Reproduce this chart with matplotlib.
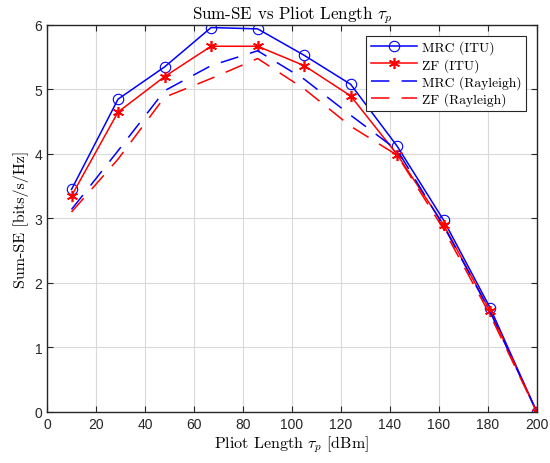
import matplotlib
matplotlib.use("Agg")
import matplotlib.pyplot as plt

plt.rcParams["mathtext.fontset"] = "cm"
plt.rcParams["axes.formatter.use_mathtext"] = False

tau_p = [10, 29, 48, 67, 86, 105, 124, 143, 162, 181, 200]
mrc_itu = [3.45, 4.85, 5.35, 5.96, 5.94, 5.53, 5.08, 4.12, 2.97, 1.61, 0.0]
zf_itu = [3.35, 4.65, 5.20, 5.67, 5.67, 5.37, 4.90, 3.99, 2.90, 1.56, 0.0]
mrc_ray = [3.14, 4.05, 4.98, 5.37, 5.60, 5.16, 4.60, 4.06, 2.88, 1.55, 0.0]
zf_ray = [3.10, 3.92, 4.88, 5.17, 5.48, 5.01, 4.43, 3.98, 2.83, 1.50, 0.0]

serif = "cmr10"
asterisk = (6, 2, 0)

fig = plt.figure(figsize=(5.5, 4.64), dpi=100)
ax = fig.add_axes([0.0855, 0.110, 0.8905, 0.834])

ax.plot(tau_p, mrc_itu, "-o", color="blue", lw=1.1, ms=7.5, mfc="none",
        mew=0.8, label="MRC (ITU)")
ax.plot(tau_p, zf_itu, "-", marker=asterisk, color="red", lw=1.1, ms=8,
        mew=1.2, label="ZF (ITU)")
ax.plot(tau_p, mrc_ray, color="blue", lw=1.1, dashes=(12, 8),
        label="MRC (Rayleigh)")
ax.plot(tau_p, zf_ray, color="red", lw=1.1, dashes=(12, 8),
        label="ZF (Rayleigh)")

ax.set_xlim(0, 200)
ax.set_ylim(0, 6)
ax.set_xticks(range(0, 201, 20))
ax.set_yticks(range(0, 7))
ax.grid(True, color="0.85", lw=0.8)
ax.tick_params(direction="in", top=True, right=True, labelsize=10,
               colors="0.15", length=4)
for lab in ax.get_xticklabels() + ax.get_yticklabels():
    lab.set_fontfamily("Liberation Sans")
for s in ax.spines.values():
    s.set_color("0.15")
    s.set_linewidth(1.0)

ax.set_title(r"Sum-SE vs Pliot Length $\tau_p$", fontfamily=serif,
             fontsize=12.2, pad=5)
ax.set_xlabel(r"Pliot Length $\tau_p$ [dBm]", fontfamily=serif, fontsize=11.5,
              labelpad=2)
ax.set_ylabel("Sum-SE [bits/s/Hz]", fontfamily=serif, fontsize=11.5,
              labelpad=4)

leg = ax.legend(loc="upper right", prop={"family": serif, "size": 9.8},
                handlelength=3.4, fancybox=False, edgecolor="0.15",
                framealpha=1, borderaxespad=0.8, handletextpad=0.3,
                labelspacing=0.25, borderpad=0.35)
leg.get_frame().set_linewidth(0.8)

fig.savefig("out.png", dpi=100)
